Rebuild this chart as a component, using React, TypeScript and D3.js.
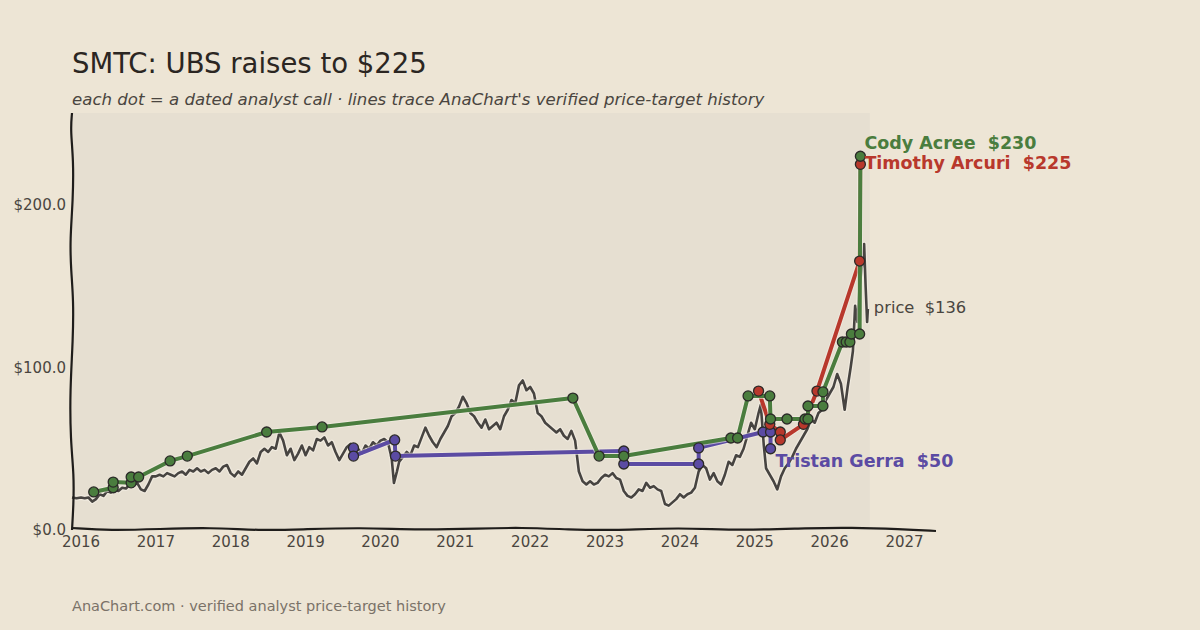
import * as d3 from 'd3';
import React from 'react';

// price history (decimal year, close)
const PRICE: [number, number][] = [
  [2015.88, 20], [2015.94, 19.5], [2016.0, 20], [2016.05, 19.5], [2016.1, 20], [2016.15, 17.5], [2016.2, 19],
  [2016.25, 22], [2016.3, 21], [2016.35, 24], [2016.4, 23], [2016.45, 25], [2016.5, 24], [2016.55, 26],
  [2016.6, 25.5], [2016.65, 28], [2016.7, 27], [2016.75, 29], [2016.8, 25], [2016.85, 24], [2016.9, 28],
  [2016.95, 33], [2017.0, 33], [2017.05, 34], [2017.1, 33], [2017.15, 35], [2017.2, 34], [2017.25, 33],
  [2017.3, 35], [2017.35, 36], [2017.4, 34], [2017.45, 37], [2017.5, 36], [2017.55, 38], [2017.6, 36],
  [2017.65, 37], [2017.7, 35], [2017.75, 37], [2017.8, 38], [2017.85, 36], [2017.9, 39], [2017.95, 40],
  [2018.0, 35], [2018.05, 33], [2018.1, 36], [2018.15, 34], [2018.2, 38], [2018.25, 42], [2018.3, 44],
  [2018.35, 41], [2018.4, 48], [2018.45, 50], [2018.5, 48], [2018.55, 51], [2018.6, 50], [2018.65, 60],
  [2018.7, 55], [2018.75, 46], [2018.8, 50], [2018.85, 43], [2018.9, 47], [2018.95, 52], [2019.0, 46],
  [2019.05, 51], [2019.1, 49], [2019.15, 56], [2019.2, 55], [2019.25, 57], [2019.3, 52], [2019.35, 54],
  [2019.4, 48], [2019.45, 43], [2019.5, 47], [2019.55, 51], [2019.6, 53], [2019.65, 48], [2019.7, 50],
  [2019.75, 47], [2019.8, 52], [2019.85, 50], [2019.9, 54], [2019.95, 52], [2020.0, 55], [2020.05, 56],
  [2020.1, 54], [2020.15, 44], [2020.18, 29], [2020.22, 36], [2020.25, 42], [2020.3, 45], [2020.35, 48],
  [2020.4, 46], [2020.45, 52], [2020.5, 51], [2020.55, 57], [2020.6, 63], [2020.65, 58], [2020.7, 54],
  [2020.75, 51], [2020.8, 56], [2020.85, 60], [2020.9, 64], [2020.95, 70], [2021.0, 72], [2021.05, 76],
  [2021.1, 82], [2021.15, 78], [2021.2, 72], [2021.25, 70], [2021.3, 66], [2021.35, 63], [2021.4, 68],
  [2021.45, 62], [2021.5, 64], [2021.55, 66], [2021.6, 62], [2021.65, 70], [2021.7, 74], [2021.75, 80],
  [2021.8, 78], [2021.85, 89], [2021.9, 92], [2021.95, 86], [2022.0, 88], [2022.05, 84], [2022.1, 72],
  [2022.15, 70], [2022.2, 66], [2022.25, 64], [2022.3, 62], [2022.35, 60], [2022.4, 62], [2022.45, 58],
  [2022.5, 56], [2022.55, 61], [2022.6, 55], [2022.65, 36], [2022.7, 30], [2022.75, 28], [2022.8, 30],
  [2022.85, 28], [2022.9, 29], [2022.95, 32], [2023.0, 34], [2023.05, 33], [2023.1, 35], [2023.15, 32],
  [2023.2, 31], [2023.25, 24], [2023.3, 21], [2023.35, 20], [2023.4, 22], [2023.45, 25], [2023.5, 24],
  [2023.55, 29], [2023.6, 26], [2023.65, 27], [2023.7, 25], [2023.75, 24], [2023.8, 16], [2023.85, 15],
  [2023.9, 17], [2023.95, 19], [2024.0, 22], [2024.05, 20], [2024.1, 22], [2024.15, 23], [2024.2, 26],
  [2024.25, 36], [2024.3, 40], [2024.35, 38], [2024.4, 31], [2024.45, 35], [2024.5, 30], [2024.55, 28],
  [2024.6, 34], [2024.65, 42], [2024.7, 40], [2024.75, 46], [2024.8, 45], [2024.85, 50], [2024.9, 58],
  [2024.95, 66], [2025.0, 62], [2025.05, 72], [2025.08, 77], [2025.12, 52], [2025.15, 38], [2025.2, 34],
  [2025.25, 30], [2025.3, 25], [2025.35, 33], [2025.4, 38], [2025.45, 41], [2025.5, 45], [2025.55, 50],
  [2025.6, 54], [2025.65, 58], [2025.7, 62], [2025.75, 68], [2025.8, 66], [2025.85, 72], [2025.9, 74],
  [2025.95, 80], [2026.0, 84], [2026.05, 88], [2026.1, 96], [2026.15, 90], [2026.2, 74], [2026.24, 88],
  [2026.28, 100], [2026.31, 110], [2026.34, 138], [2026.37, 128], [2026.4, 150], [2026.43, 162],
  [2026.46, 176], [2026.48, 150], [2026.5, 128], [2026.51, 136],
];

// analyst price targets (decimal year, target)
const ACREE: [number, number][] = [
  [2016.17, 23.4], [2016.43, 26], [2016.43, 29.5], [2016.67, 29], [2016.67, 32.6], [2016.77, 32.6],
  [2017.19, 42.5], [2017.42, 45.5], [2018.48, 60.3], [2019.22, 63.4], [2022.57, 81.2], [2022.92, 45.5],
  [2023.25, 45.5], [2024.68, 56.6], [2024.77, 56.6], [2024.91, 82.5], [2025.2, 82.5], [2025.21, 68.3],
  [2025.43, 68.3], [2025.67, 68.3], [2025.71, 68.3], [2025.71, 76.3], [2025.91, 76.3], [2025.91, 85],
  [2026.17, 115.7], [2026.22, 115.7], [2026.27, 115.7], [2026.29, 120.6], [2026.4, 120.6], [2026.41, 230],
];
const ARCURI: [number, number][] = [
  [2025.05, 85.5], [2025.2, 65], [2025.34, 60.3], [2025.34, 55.4], [2025.65, 65], [2025.83, 85.5],
  [2026.4, 165.5], [2026.41, 225],
];
const GERRA: [number, number][] = [
  [2019.64, 50.5], [2019.64, 45.5], [2020.19, 55.4], [2020.2, 45.5], [2023.25, 48.6], [2023.25, 40.6],
  [2024.25, 40.6], [2024.25, 50.5], [2025.11, 60.3], [2025.21, 60.3], [2025.21, 50],
];

const YEARS = [2016, 2017, 2018, 2019, 2020, 2021, 2022, 2023, 2024, 2025, 2026, 2027];
const Y_TICKS = [0, 100, 200];

// drawn in this order: later ones sit on top
const ANALYSTS = [
  { name: 'Tristan Gerra', color: '#5b4ba3', pts: GERRA, dx: 5, dy: 12 },
  { name: 'Timothy Arcuri', color: '#b8382c', pts: ARCURI, dx: 4, dy: -1 },
  { name: 'Cody Acree', color: '#4a7d3e', pts: ACREE, dx: 4, dy: -13 },
];

const BG = '#ede5d5';
const FONT = '"DejaVu Sans", sans-serif';

export default function App() {
  const W = 1200, H = 630;
  const x = d3.scaleLinear().domain([2015.88, 2027.42]).range([72, 936]);
  const y = d3.scaleLinear().domain([0, 256.6]).range([530, 113]);

  const line = d3.line<[number, number]>().x(d => x(d[0])).y(d => y(d[1]));

  // hand-drawn style wobble for the spines
  const leftWobble: [number, number][] = [
    [0, 113], [-1.5, 130], [1.5, 160], [1, 200], [-2, 240], [-1, 270], [1.5, 300], [1, 340],
    [-2, 390], [-1.5, 440], [2, 475], [1.5, 505], [0, 530],
  ];
  const bottomWobble: [number, number][] = [
    [72, -2], [110, 0.5], [160, -1], [210, -2.5], [260, 0.5], [300, -0.5], [360, -2.5], [420, 0],
    [480, -1.5], [520, -2.5], [570, -0.5], [610, 0.5], [680, -2.5], [740, 0.5], [810, -2],
    [850, -2.5], [900, -1], [936, 1],
  ];
  const leftPath = d3.line<[number, number]>().x(d => 72 + d[0]).y(d => d[1]).curve(d3.curveBasis)(leftWobble) || '';
  const bottomPath = d3.line<[number, number]>().x(d => d[0]).y(d => 530 + d[1]).curve(d3.curveBasis)(bottomWobble) || '';

  const last = PRICE[PRICE.length - 1];
  const plotRight = x(last[0]) + 2;

  return (
    <svg width={W} height={H} style={{ position: 'absolute', left: 0, top: 0, fontFamily: FONT }}>
      <rect width={W} height={H} fill={BG} />
      <rect x={72} y={113} width={plotRight - 72} height={417} fill="#e6dfd1" />

      <text x={72} y={73} fontSize={27.5} fill="#2b2622">SMTC: UBS raises to $225</text>
      <text x={72} y={105} fontSize={16.6} fontStyle="italic" fill="#4a4540">
        each dot = a dated analyst call · lines trace AnaChart's verified price-target history
      </text>

      {/* price */}
      <path d={line(PRICE) || ''} fill="none" stroke="#f3eee4" strokeOpacity={0.7} strokeWidth={5} strokeLinejoin="round" />
      <path d={line(PRICE) || ''} fill="none" stroke="#474441" strokeWidth={2.6} strokeLinejoin="round" />

      {ANALYSTS.map(a => (
        <g key={a.name}>
          <path d={line(a.pts) || ''} fill="none" stroke="#f3eee4" strokeOpacity={0.6} strokeWidth={6} strokeLinejoin="round" />
          <path d={line(a.pts) || ''} fill="none" stroke={a.color} strokeWidth={4} strokeLinejoin="round" />
        </g>
      ))}
      {ANALYSTS.map(a => (
        <g key={a.name + '-dots'}>
          {a.pts.map((p, i) => (
            <circle key={i} cx={x(p[0])} cy={y(p[1])} r={5} fill={a.color} stroke="#2b2a28" strokeWidth={1.3} />
          ))}
        </g>
      ))}

      {/* spines */}
      <path d={leftPath} fill="none" stroke="#1f1d1b" strokeWidth={2.2} />
      <path d={bottomPath} fill="none" stroke="#1f1d1b" strokeWidth={2.2} />

      {Y_TICKS.map(t => (
        <text key={t} x={66} y={y(t)} dy="0.35em" textAnchor="end" fontSize={15} fill="#4a4540">
          {'$' + d3.format('.1f')(t)}
        </text>
      ))}
      {YEARS.map(t => (
        <text key={t} x={x(t)} y={547} textAnchor="middle" fontSize={15} fill="#4a4540">{t}</text>
      ))}

      {/* end labels */}
      {ANALYSTS.map(a => {
        const e = a.pts[a.pts.length - 1];
        return (
          <text key={a.name + '-lbl'} x={x(e[0]) + a.dx} y={y(e[1]) + a.dy} dy="0.35em" fontSize={17.5}
            fontWeight="bold" fill={a.color} style={{ whiteSpace: 'pre' }}>
            {`${a.name}  $${e[1]}`}
          </text>
        );
      })}
      <text x={x(last[0]) + 6} y={y(last[1]) - 2} dy="0.35em" fontSize={16.3} fill="#4a4540" style={{ whiteSpace: 'pre' }}>
        {`price  $${last[1]}`}
      </text>

      <text x={72} y={611} fontSize={14.5} fill="#7a7268">AnaChart.com · verified analyst price-target history</text>
    </svg>
  );
}
